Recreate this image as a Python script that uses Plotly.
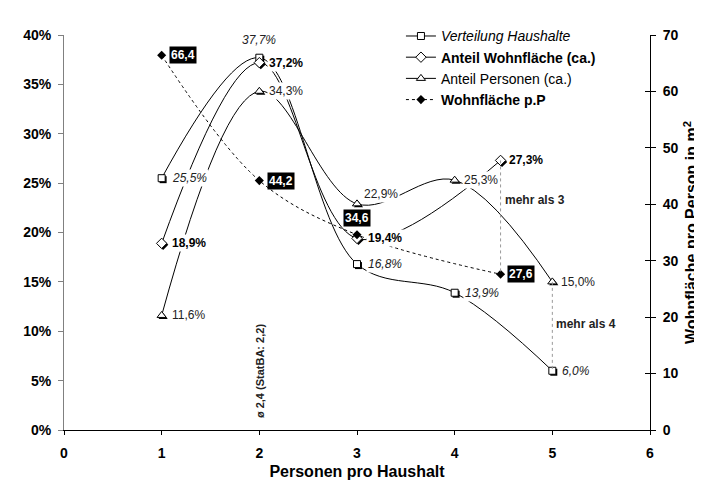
import plotly.graph_objects as go

# ---------------- data ----------------
haushalte_x = [1, 2, 3, 4, 5]
haushalte = [25.5, 37.7, 16.8, 13.9, 6.0]          # Verteilung Haushalte (%)
personen_x = [1, 2, 3, 4, 5]
personen = [11.6, 34.3, 22.9, 25.3, 15.0]          # Anteil Personen (%)
wohnfl_x = [1, 2, 3, 4.47]
wohnfl = [18.9, 37.2, 19.4, 27.3]                  # Anteil Wohnfläche (%)
wpp_x = [1, 2, 3, 4.47]
wpp = [66.4, 44.2, 34.6, 27.6]                     # Wohnfläche pro Person (m²)

x_ticks = [0, 1, 2, 3, 4, 5, 6]
y_left_ticks = [0, 5, 10, 15, 20, 25, 30, 35, 40]
y_right_ticks = [0, 10, 20, 30, 40, 50, 60, 70]

FONT = "Liberation Sans, Arial, sans-serif"
LEFT_MAX, RIGHT_MAX = 40, 70

fig = go.Figure()

# marker shadows (small offset, like Excel marker shadow)
sdx, sdy = 0.015, -0.15
def shadow(xs, ys, symbol, size):
    fig.add_trace(go.Scatter(
        x=[v + sdx for v in xs], y=[v + sdy for v in ys], mode="markers",
        marker=dict(symbol=symbol, size=size, color="black"),
        showlegend=False, hoverinfo="skip"))

shadow(haushalte_x, haushalte, "square", 7)
shadow(wohnfl_x, wohnfl, "diamond", 8)
shadow(personen_x, personen, "triangle-up", 8)

line_common = dict(color="black", width=1, shape="spline", smoothing=1)

fig.add_trace(go.Scatter(
    x=haushalte_x, y=haushalte, mode="lines+markers",
    name="<i>Verteilung Haushalte</i>",
    line=line_common,
    marker=dict(symbol="square", size=7, color="white", line=dict(color="black", width=1))))
fig.add_trace(go.Scatter(
    x=wohnfl_x, y=wohnfl, mode="lines+markers",
    name="<b>Anteil Wohnfläche (ca.)</b>",
    line=line_common,
    marker=dict(symbol="diamond", size=8, color="white", line=dict(color="black", width=1))))
fig.add_trace(go.Scatter(
    x=personen_x, y=personen, mode="lines+markers",
    name="Anteil Personen (ca.)",
    line=line_common,
    marker=dict(symbol="triangle-up", size=8, color="white", line=dict(color="black", width=1))))
fig.add_trace(go.Scatter(
    x=wpp_x, y=wpp, mode="lines+markers", yaxis="y2",
    name="<b>Wohnfläche p.P</b>",
    line=dict(color="black", width=1, dash="dot", shape="spline", smoothing=1),
    marker=dict(symbol="diamond", size=7, color="black")))

# vertical grey dotted connectors ("mehr als 3", "mehr als 4")
fig.add_trace(go.Scatter(
    x=[wohnfl_x[-1], wpp_x[-1]], y=[wohnfl[-1] / LEFT_MAX * RIGHT_MAX, wpp[-1]], yaxis="y2",
    mode="lines", line=dict(color="#999999", width=1, dash="dot"),
    showlegend=False, hoverinfo="skip"))
fig.add_trace(go.Scatter(
    x=[personen_x[-1], haushalte_x[-1]], y=[personen[-1], haushalte[-1]],
    mode="lines", line=dict(color="#999999", width=1, dash="dot"),
    showlegend=False, hoverinfo="skip"))

# invisible trace to carry the inner tick marks of the right axis
fig.add_trace(go.Scatter(x=[None], y=[None], yaxis="y3", showlegend=False, hoverinfo="skip"))

# ---------------- data labels ----------------
def pct(v):
    return f"{v:.1f}".replace(".", ",") + "%"

def num(v):
    return f"{v:.1f}".replace(".", ",")

def label(x, y, text, yref="y", dx=8, dy=0, anchor="left", weight="normal",
          style="normal", color="#222222", bg="white"):
    fig.add_annotation(
        x=x, y=y, xref="x", yref=yref, text=text, showarrow=False,
        xanchor=anchor, yanchor="middle", xshift=dx, yshift=dy,
        font=dict(family=FONT, size=12, color=color, weight=weight, style=style),
        bgcolor=bg, borderpad=1)

h_pos = [(8, 0, "left"), (0, 18, "center"), (9, 0, "left"), (8, 0, "left"), (8, 0, "left")]
for xv, yv, (dx, dy, an) in zip(haushalte_x, haushalte, h_pos):
    label(xv, yv, pct(yv), dx=dx, dy=dy, anchor=an, style="italic")

w_pos = [(8, 0, "left"), (8, 0, "left"), (9, 0, "left"), (6, 0, "left")]
for xv, yv, (dx, dy, an) in zip(wohnfl_x, wohnfl, w_pos):
    label(xv, yv, pct(yv), dx=dx, dy=dy, anchor=an, weight="bold", color="black")

p_pos = [(8, 0, "left"), (8, 0, "left"), (5, 10, "left"), (7, 0, "left"), (7, 0, "left")]
for xv, yv, (dx, dy, an) in zip(personen_x, personen, p_pos):
    label(xv, yv, pct(yv), dx=dx, dy=dy, anchor=an)

q_pos = [(7, 0, "left"), (8, 0, "left"), (0, 17, "center"), (6, 0, "left")]
for xv, yv, (dx, dy, an) in zip(wpp_x, wpp, q_pos):
    label(xv, yv, num(yv), yref="y2", dx=dx, dy=dy, anchor=an, weight="bold",
          color="white", bg="black")

# text notes
fig.add_annotation(x=wohnfl_x[-1], y=23.3, xref="x", yref="y", text="<b>mehr als 3</b>",
                   showarrow=False, xanchor="left", yanchor="middle", xshift=2,
                   font=dict(family=FONT, size=12, color="#222222"))
fig.add_annotation(x=personen_x[-1], y=10.7, xref="x", yref="y", text="<b>mehr als 4</b>",
                   showarrow=False, xanchor="left", yanchor="middle", xshift=2,
                   font=dict(family=FONT, size=12, color="#222222"))
fig.add_annotation(x=2, y=6.0, xref="x", yref="y", text="<b>ø 2,4 (StatBA: 2,2)</b>",
                   showarrow=False, textangle=-90, xanchor="center", yanchor="middle",
                   font=dict(family=FONT, size=11, color="#222222"))

tickfont = dict(family=FONT, size=14, color="black", weight="bold")

fig.update_layout(
    width=702, height=482,
    margin=dict(l=56, r=54, t=23, b=56),
    paper_bgcolor="white", plot_bgcolor="white",
    font=dict(family=FONT, color="black"),
    showlegend=True,
    legend=dict(x=0.575, y=1.037, xanchor="left", yanchor="top",
                bgcolor="rgba(255,255,255,0)", borderwidth=0,
                font=dict(family=FONT, size=14, color="black"),
                tracegroupgap=0, itemwidth=30),
    xaxis=dict(range=[0, 6], tickvals=x_ticks, ticktext=[str(v) for v in x_ticks],
               showgrid=False, zeroline=False, showline=True, linecolor="black", linewidth=1,
               ticks="outside", ticklen=4, tickcolor="black", tickfont=tickfont,
               ticklabelstandoff=6,
               title=dict(text="<b>Personen pro Haushalt</b>", font=dict(family=FONT, size=16),
                          standoff=6)),
    yaxis=dict(range=[0, LEFT_MAX], tickvals=y_left_ticks,
               ticktext=[f"{v}%" for v in y_left_ticks],
               showgrid=False, zeroline=False, showline=True, linecolor="#808080", linewidth=1,
               ticks="outside", ticklen=5, tickcolor="#808080", tickfont=tickfont,
               ticklabelstandoff=4),
    yaxis2=dict(range=[0, RIGHT_MAX], tickvals=y_right_ticks,
                ticktext=[str(v) for v in y_right_ticks],
                overlaying="y", side="right", anchor="x",
                showgrid=False, zeroline=False, showline=True, linecolor="black", linewidth=1,
                ticks="outside", ticklen=5, tickcolor="black", tickfont=tickfont,
                ticklabelstandoff=4,
                title=dict(text="<b>Wohnfläche pro Person in m<sup>2</sup></b>",
                           font=dict(family=FONT, size=16), standoff=8)),
    yaxis3=dict(range=[0, RIGHT_MAX], tickvals=y_right_ticks,
                overlaying="y", side="right", anchor="x",
                showgrid=False, zeroline=False, showline=False,
                ticks="inside", ticklen=5, tickcolor="black", showticklabels=False),
)

fig.write_html("out.html")
